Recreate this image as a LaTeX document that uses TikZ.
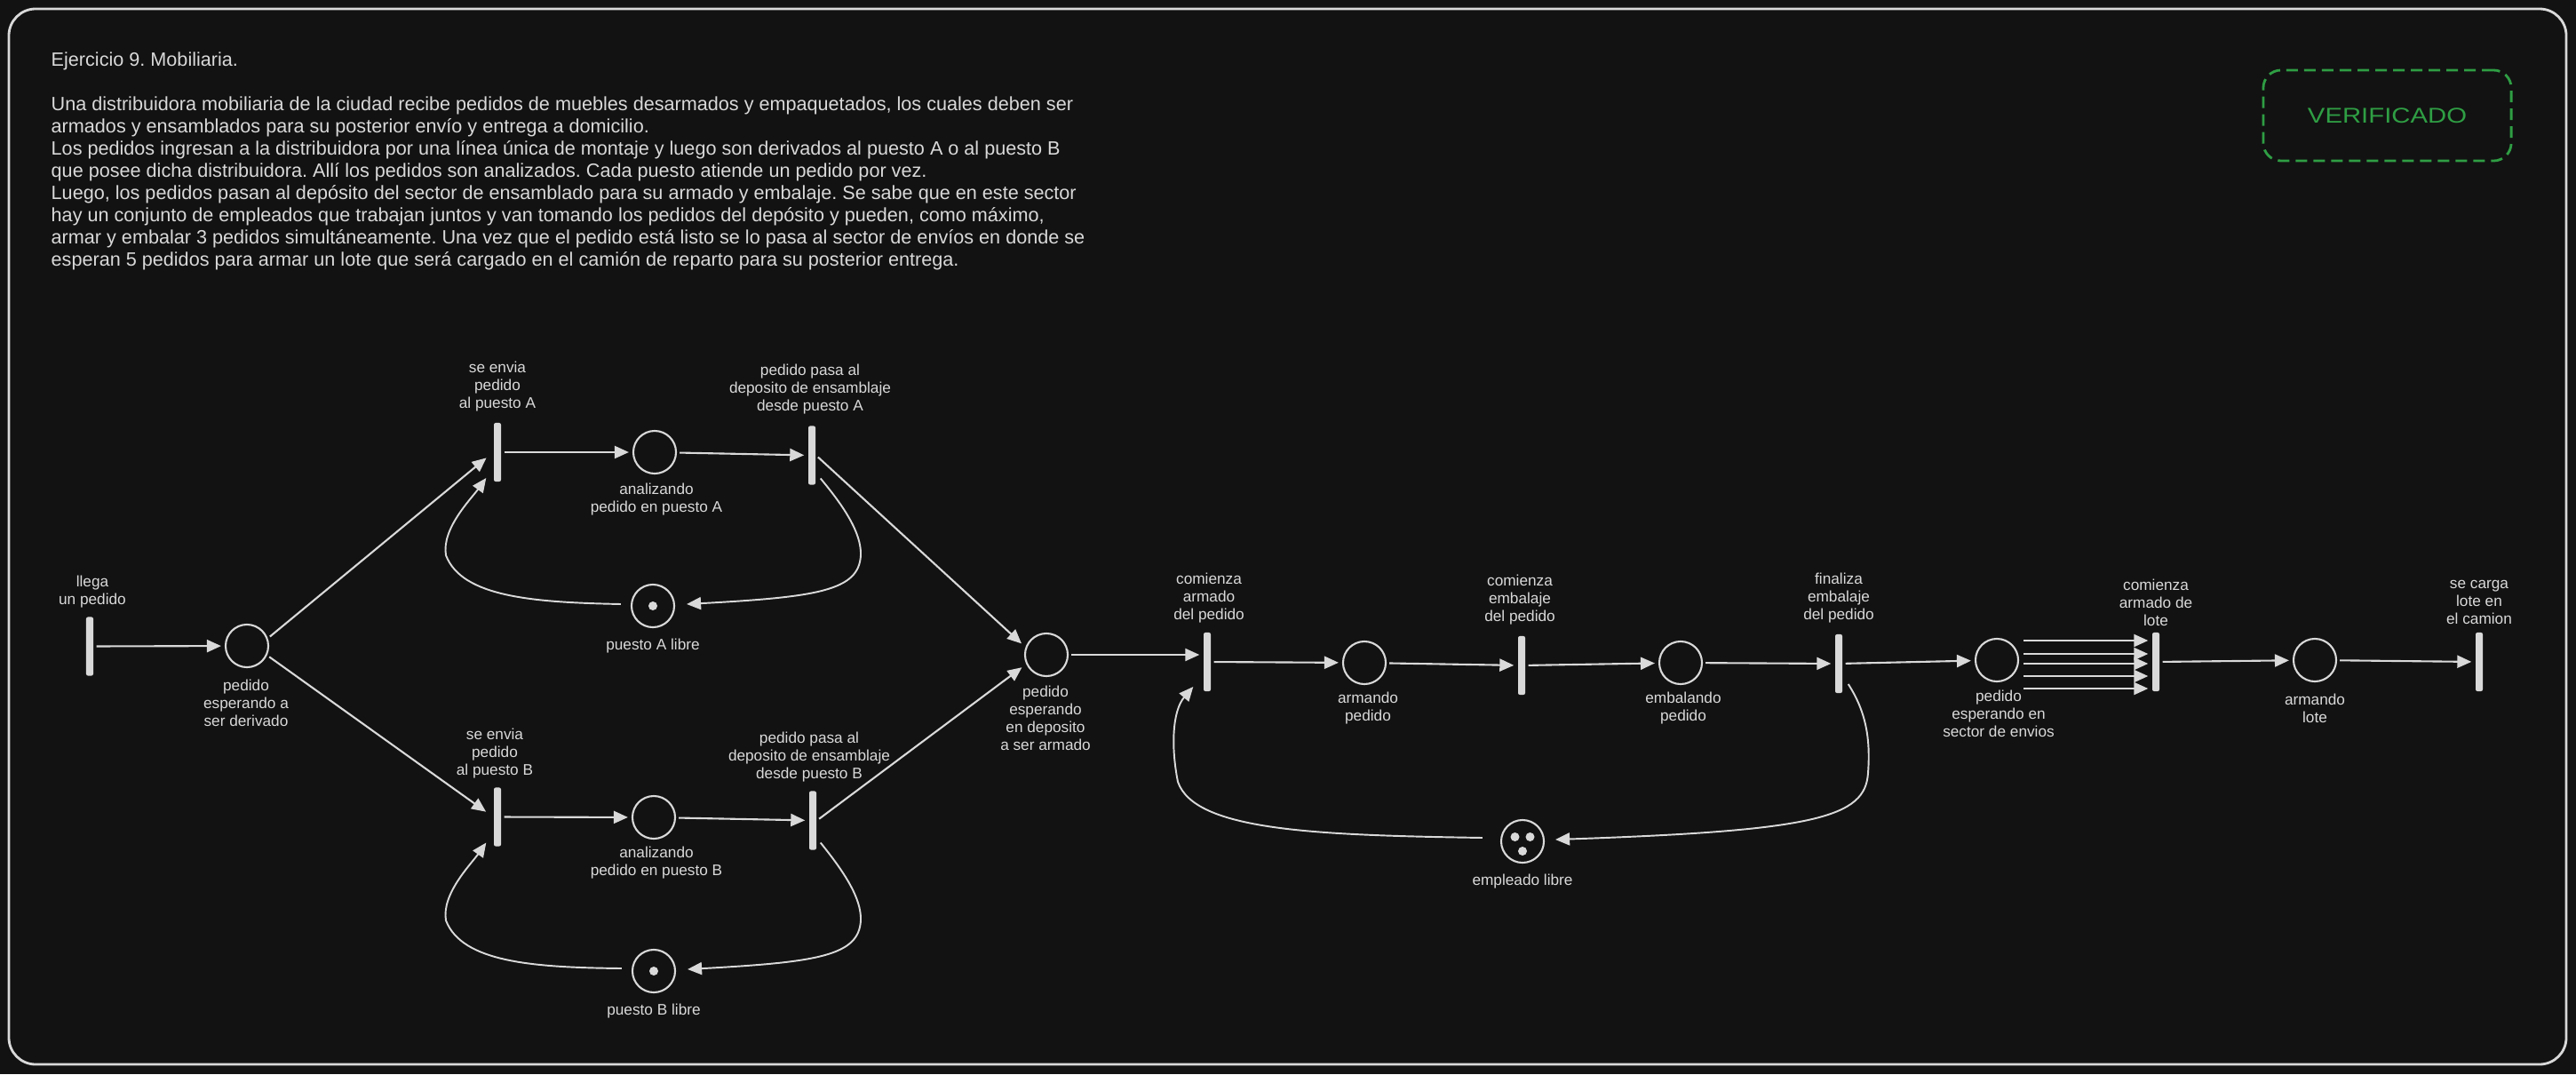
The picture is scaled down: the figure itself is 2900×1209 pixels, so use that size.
\documentclass[tikz,border=0pt]{standalone}
\usepackage{graphicx}
\usepackage{fontspec}
\setmainfont{Liberation Sans}
\usetikzlibrary{arrows.meta,calc}
\definecolor{bg}{HTML}{121212}
\definecolor{ink}{HTML}{D9D9D9}
\definecolor{okgreen}{HTML}{2F9E44}
\frenchspacing

\begin{document}
\begin{tikzpicture}[x=0.01cm,y=-0.01cm,
  place/.style={circle,draw=ink,line width=0.6pt,minimum size=0.48cm,inner sep=0pt},
  trans/.style={rectangle,fill=ink,minimum width=0.08cm,minimum height=0.66cm,inner sep=0pt,rounded corners=0.02cm},
  tok/.style={circle,fill=ink,minimum size=0.1cm,inner sep=0pt},
  lbl/.style={align=center,text=ink,inner sep=0pt,font=\fontsize{4.9pt}{5.69pt}\selectfont},
  arc/.style={draw=ink,line width=0.6pt,-{Triangle[length=0.16cm,width=0.14cm]},shorten >=0.04cm,shorten <=0.03cm},
  curvearc/.style={draw=ink,line width=0.55pt,-{Triangle[length=0.16cm,width=0.14cm]}}
]
% canvas and frame
\fill[bg] (0,0) rectangle (2900,1209);
\useasboundingbox (0,0) rectangle (2900,1209);
\draw[ink,line width=0.8pt,rounded corners=0.3cm] (10,10) rectangle (2889,1198);

% statement
\node[anchor=north west,align=left,inner sep=0pt,text=ink,font=\fontsize{6.15pt}{7.08pt}\selectfont] (enun) at (57,58) {%
Ejercicio 9. Mobiliaria.\\[7.3pt]
Una distribuidora mobiliaria de la ciudad recibe pedidos de muebles desarmados y empaquetados, los cuales deben ser\\
armados y ensamblados para su posterior envío y entrega a domicilio.\\
Los pedidos ingresan a la distribuidora por una línea única de montaje y luego son derivados al puesto A o al puesto B\\
que posee dicha distribuidora. Allí los pedidos son analizados. Cada puesto atiende un pedido por vez.\\
Luego, los pedidos pasan al depósito del sector de ensamblado para su armado y embalaje. Se sabe que en este sector\\
hay un conjunto de empleados que trabajan juntos y van tomando los pedidos del depósito y pueden, como máximo,\\
armar y embalar 3 pedidos simultáneamente. Una vez que el pedido está listo se lo pasa al sector de envíos en donde se\\
esperan 5 pedidos para armar un lote que será cargado en el camión de reparto para su posterior entrega.};

% status stamp
\node[draw=okgreen,dash pattern=on 0.13cm off 0.07cm,line width=0.8pt,rounded corners=0.2cm,
      minimum width=2.79cm,minimum height=1.02cm,text=okgreen,inner sep=0pt] (stamp) at (2687.5,130)
      {\fontsize{6.83pt}{8pt}\selectfont\scalebox{1.22}[1]{VERIFICADO}};

% transitions
\node[trans] (T0) at (101,727.5) {};
\node[trans] (TA1) at (560,509) {};
\node[trans] (TA2) at (914,512.5) {};
\node[trans] (TB1) at (560,919.5) {};
\node[trans] (TB2) at (915,923.5) {};
\node[trans] (Tarm) at (1359,745) {};
\node[trans] (Temb) at (1713,749) {};
\node[trans] (Tfin) at (2070,747) {};
\node[trans] (Tlote) at (2427,745) {};
\node[trans] (Tcarga) at (2791,745) {};

% places
\node[place] (P0) at (278,727) {};
\node[place] (PA) at (737,509) {};
\node[place] (LA) at (735,682) {};
\node[place] (PB) at (736,920) {};
\node[place] (LB) at (736,1093) {};
\node[place] (Pdep) at (1178,737) {};
\node[place] (Parm) at (1536,746) {};
\node[place] (Pemb) at (1892,746) {};
\node[place] (Emp) at (1714,947) {};
\node[place] (Penv) at (2248,743) {};
\node[place] (Plote) at (2606,743) {};

% tokens
\node[tok] (tokA) at (LA) {};
\node[tok] (tokB) at (LB) {};
\node[tok] (tokE1) at ($(Emp)+(-8.5,-5)$) {};
\node[tok] (tokE2) at ($(Emp)+(8.5,-5)$) {};
\node[tok] (tokE3) at ($(Emp)+(0,11)$) {};

% labels
\node[lbl] (lT0) at (104,666) {llega\\un pedido};
\node[lbl] (lP0) at (277,791) {pedido\\esperando a\\ser derivado};
\node[lbl] (lTA1) at (560,435) {se envia\\pedido\\al puesto A};
\node[lbl] (lPA) at (739,562) {analizando\\pedido en puesto A};
\node[lbl] (lTA2) at (912,438) {pedido pasa al\\deposito de ensamblaje\\desde puesto A};
\node[lbl] (lLA) at (735,727) {puesto A libre};
\node[lbl] (lTB1) at (557,848) {se envia\\pedido\\al puesto B};
\node[lbl] (lPB) at (739,971) {analizando\\pedido en puesto B};
\node[lbl] (lTB2) at (911,852) {pedido pasa al\\deposito de ensamblaje\\desde puesto B};
\node[lbl] (lLB) at (736,1138) {puesto B libre};
\node[lbl] (lPdep) at (1177,808) {pedido\\esperando\\en deposito\\a ser armado};
\node[lbl] (lTarm) at (1361,673) {comienza\\armado\\del pedido};
\node[lbl] (lParm) at (1540,797) {armando\\pedido};
\node[lbl] (lTemb) at (1711,675) {comienza\\embalaje\\del pedido};
\node[lbl] (lPemb) at (1895,797) {embalando\\pedido};
\node[lbl] (lEmp) at (1714,992) {empleado libre};
\node[lbl] (lTfin) at (2070,673) {finaliza\\embalaje\\del pedido};
\node[lbl] (lPenv) at (2250,803) {pedido\\esperando en\\sector de envios};
\node[lbl] (lTlote) at (2427,678) {comienza\\armado de\\lote};
\node[lbl] (lPlote) at (2606,797) {armando\\lote};
\node[lbl] (lTcarga) at (2791,678) {se carga\\lote en\\el camion};

% straight arcs
\draw[arc] (T0) -- (P0);
\draw[arc,shorten >=0.1cm] (P0.20) -- (TA1.west);
\draw[arc,shorten >=0.1cm] (P0.-25) -- (TB1.west);
\draw[arc] (TA1) -- (PA);
\draw[arc] (PA) -- (TA2);
\draw[arc] (TB1) -- (PB);
\draw[arc] (PB) -- (TB2);
\draw[arc,shorten >=0.06cm] (TA2.east) -- (Pdep.160);
\draw[arc,shorten >=0.06cm] (TB2.east) -- (Pdep.205);
\draw[arc] (Pdep) -- (Pdep -| Tarm.west);
\draw[arc] (Tarm) -- (Parm);
\draw[arc] (Parm) -- (Temb);
\draw[arc] (Temb) -- (Pemb);
\draw[arc] (Pemb) -- (Tfin);
\draw[arc] (Tfin) -- (Penv);
\foreach \dy in {-22,-7,4,18,32}
  \draw[arc,shorten <=0pt] ($(Penv.east)+(5,\dy)$) -- ($(Tlote.west)+(0,\dy-2)$);
\draw[arc] (Tlote) -- (Plote);
\draw[arc] (Plote) -- (Tcarga);

% resource loops of puesto A
\draw[curvearc] ($(TA2.east)+(5,26)$) .. controls (950,570) and (970,600) .. (969,625)
  .. controls (967,665) and (920,672) .. ($(LA.east)+(13,-2)$);
\draw[curvearc] ($(LA.west)+(-11,-2)$) .. controls (600,678) and (520,672) .. (502,625)
  .. controls (497,595) and (530,562) .. ($(TA1.west)+(-8,29)$);

% resource loops of puesto B
\draw[curvearc] ($(TB2.east)+(4,25)$) .. controls (950,981) and (970,1011) .. (969,1036)
  .. controls (967,1076) and (920,1083) .. ($(LB.east)+(13,-2)$);
\draw[curvearc] ($(LB.west)+(-11,-3)$) .. controls (600,1089) and (520,1083) .. (502,1036)
  .. controls (497,1006) and (530,973) .. ($(TB1.west)+(-8,29)$);

% resource loop of empleados
\draw[curvearc] ($(Tfin.east)+(6,23)$) .. controls (2100,800) and (2106,830) .. (2103,870)
  .. controls (2100,920) and (2045,935) .. ($(Emp.east)+(12,-2)$);
\draw[curvearc] ($(Emp.west)+(-20,-4)$) .. controls (1480,940) and (1345,935) .. (1326,880)
  .. controls (1318,840) and (1320,800) .. ($(Tarm.west)+(-11,28)$);
\end{tikzpicture}
\end{document}
